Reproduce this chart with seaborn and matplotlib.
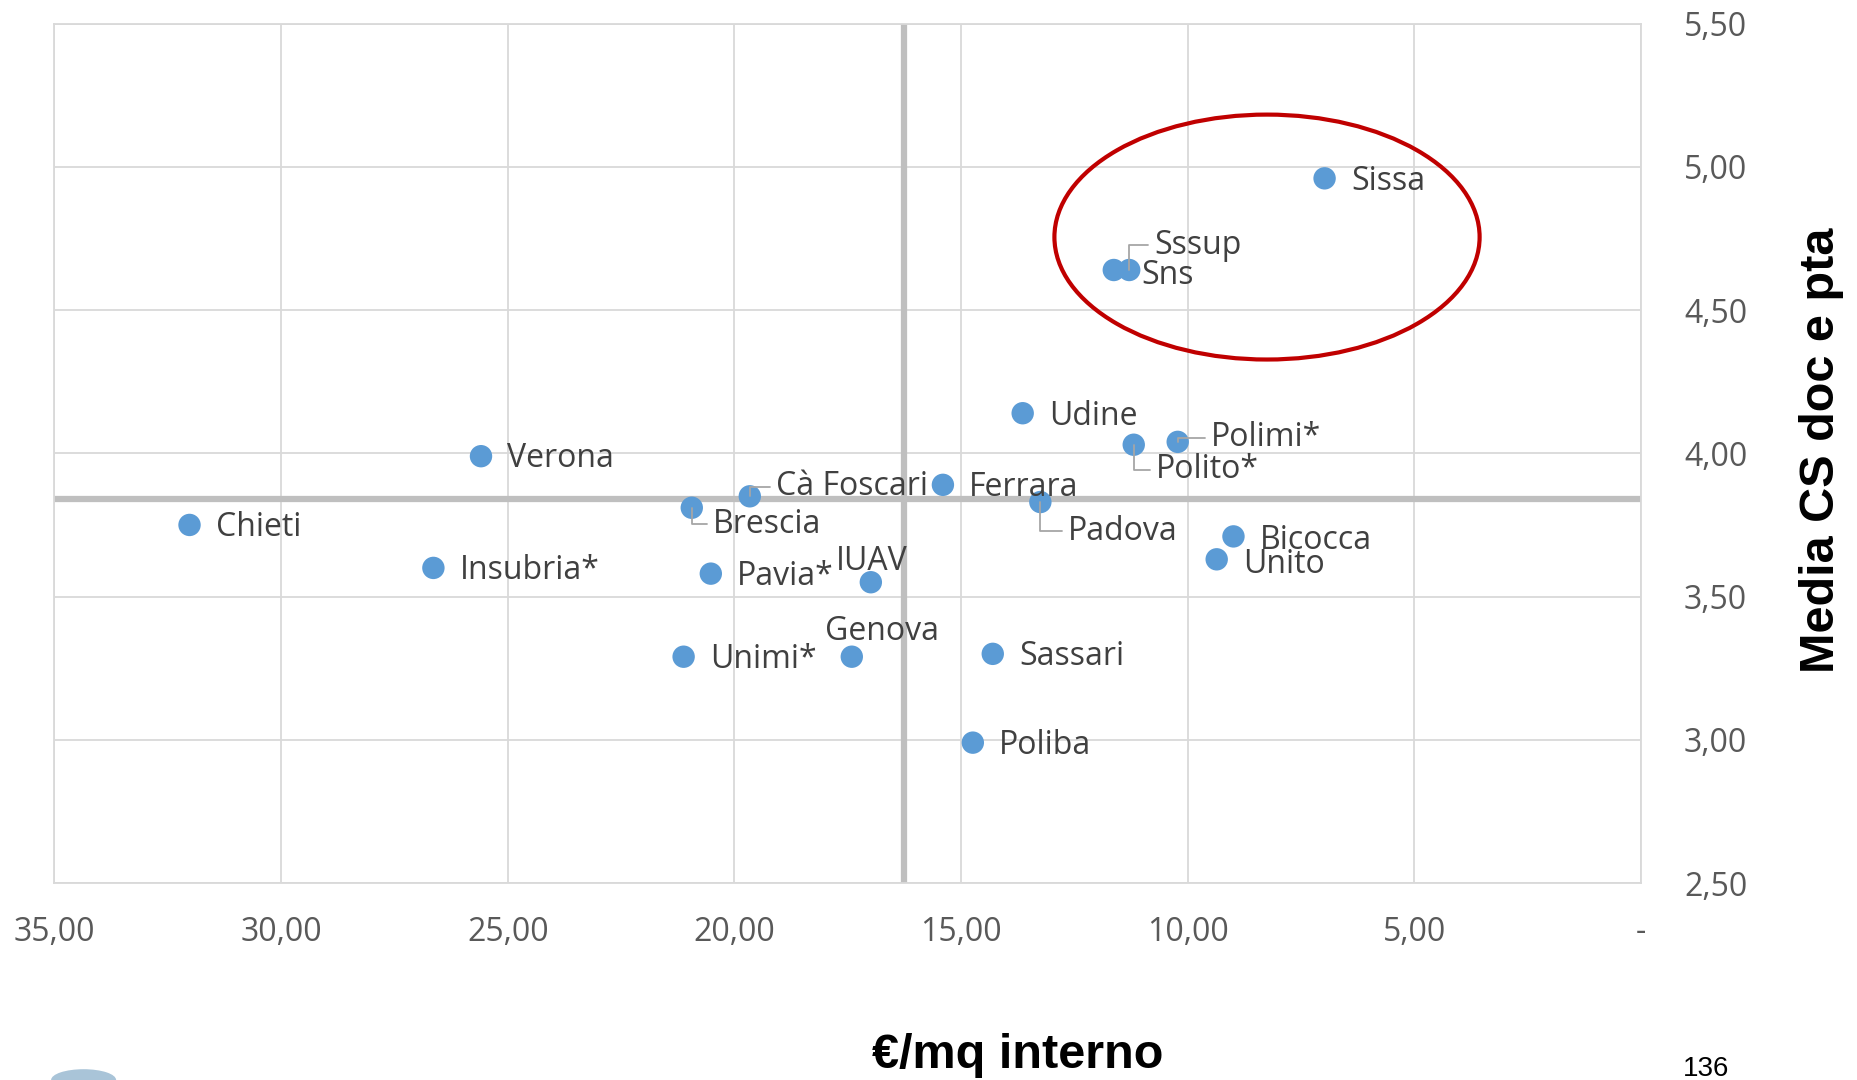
import numpy as np
import pandas as pd
import seaborn as sns
import matplotlib.pyplot as plt
from matplotlib.patches import Ellipse
from matplotlib.ticker import FuncFormatter

# data
atenei = ["Sissa", "Sssup", "Sns", "Udine", "Polimi*", "Polito*", "Verona",
          "Ferrara", "Cà Foscari", "Padova", "Brescia", "Chieti", "Bicocca",
          "Unito", "Insubria*", "Pavia*", "IUAV", "Unimi*", "Genova",
          "Sassari", "Poliba"]
euro_mq = [6.98, 11.29, 11.63, 13.64, 10.22, 11.19, 25.59,
           15.40, 19.66, 13.25, 20.94, 32.02, 8.99,
           9.36, 26.64, 20.52, 16.99, 21.12, 17.41,
           14.30, 14.74]
media_cs = [4.96, 4.64, 4.64, 4.14, 4.04, 4.03, 3.99,
            3.89, 3.85, 3.83, 3.81, 3.75, 3.71,
            3.63, 3.60, 3.58, 3.55, 3.29, 3.29,
            3.30, 2.99]
media_x = 16.26
media_y = 3.84

# label offsets (points) and whether a leader line is drawn
offsets = {
    "Sssup": (18, 18, True), "Sns": (20, -4, False), "Polimi*": (24, 3, True),
    "Polito*": (16, -18, True), "Cà Foscari": (19, 7, True),
    "Brescia": (15, -12, True), "Padova": (20, -21, True),
    "Bicocca": (19, -3, False), "Unito": (19, -4, False),
}

df = pd.DataFrame({"x": euro_mq, "y": media_cs, "nome": atenei})

sns.set_style("white")
plt.rcParams["font.family"] = ["Open Sans", "DejaVu Sans"]

fig = plt.figure(figsize=(18.58, 10.80), dpi=100)
ax = fig.add_axes([0.0293, 0.1824, 0.8539, 0.7957])

grid_c = "#D9D9D9"
ax.set_xlim(35, 0)
ax.set_ylim(2.5, 5.5)
ax.set_xticks(np.arange(0, 36, 5))
ax.set_yticks(np.arange(2.5, 5.51, 0.5))
ax.grid(True, color=grid_c, lw=1.3)
for s in ax.spines.values():
    s.set_color(grid_c)
    s.set_linewidth(1.3)

ax.axvline(media_x, color="#BFBFBF", lw=4.5, zorder=1)
ax.axhline(media_y, color="#BFBFBF", lw=4.5, zorder=1)

sns.scatterplot(data=df, x="x", y="y", ax=ax, s=260, color="#5B9BD5",
                edgecolor="none", zorder=3, legend=False)

lab_size = 23
for nome, x, y in zip(atenei, euro_mq, media_cs):
    if nome == "IUAV":
        ax.annotate(nome, (x, y), xytext=(1, 15), textcoords="offset points",
                    ha="center", va="center", fontsize=lab_size, color="#404040")
        continue
    if nome == "Genova":
        ax.annotate(nome, (x, y), xytext=(22, 18), textcoords="offset points",
                    ha="center", va="center", fontsize=lab_size, color="#404040")
        continue
    dx, dy, leader = offsets.get(nome, (19, -2, False))
    arrow = None
    if leader:
        arrow = dict(arrowstyle="-", color="#A6A6A6", lw=1.3, shrinkA=2,
                     shrinkB=0, relpos=(0, 0.5),
                     connectionstyle="angle,angleA=0,angleB=90,rad=0")
    ax.annotate(nome, (x, y), xytext=(dx, dy), textcoords="offset points",
                ha="left", va="center", fontsize=lab_size, color="#404040",
                arrowprops=arrow, zorder=4)

# circle around the top performers
ax.add_patch(Ellipse((8.25, 4.755), 9.38, 0.855, fill=False,
                     edgecolor="#C00000", lw=3, zorder=5))

def fmt_it(v, pos):
    if abs(v) < 1e-9:
        return "-"
    return f"{v:.2f}".replace(".", ",")

ax.xaxis.set_major_formatter(FuncFormatter(fmt_it))
ax.yaxis.set_major_formatter(FuncFormatter(fmt_it))
ax.yaxis.tick_right()
ax.tick_params(axis="x", length=0, pad=24, labelsize=23, labelcolor="#595959")
ax.tick_params(axis="y", length=0, pad=31, labelsize=23, labelcolor="#595959")

ax.set_xlabel("€/mq interno", fontsize=35, fontweight="bold",
              family="Liberation Sans", color="black")
ax.xaxis.set_label_coords(0.607, -0.175)
ax.yaxis.set_label_position("right")
ax.set_ylabel("Media CS doc e pta", fontsize=35, fontweight="bold",
              family="Liberation Sans", color="black")
ax.yaxis.set_label_coords(1.0995, 0.504)

fig.text(0.918, 0.010, "136", fontsize=20, family="Liberation Sans",
         ha="center", va="center", color="black")
fig.patches.append(Ellipse((0.045, 0.0), 0.035, 0.02, transform=fig.transFigure,
                           facecolor="#A9C4D8", edgecolor="none"))

fig.savefig("out.png", dpi=100)
